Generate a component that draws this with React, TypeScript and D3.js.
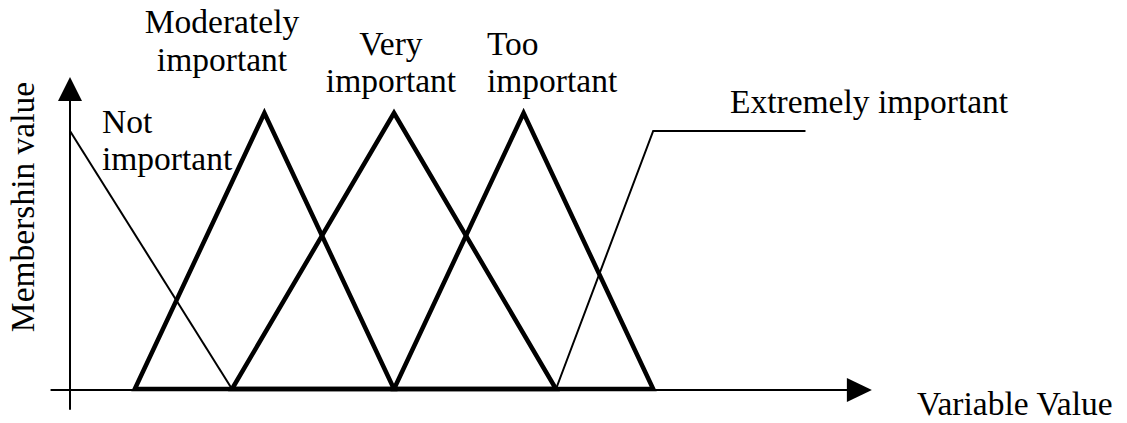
import React from "react";
import * as d3 from "d3";

// membership functions, x in variable units, y in membership
const notImportantX = [0, 5];
const notImportantY = [0.935, 0];
const moderatelyX = [2, 6, 10];
const moderatelyY = [0, 1, 0];
const veryX = [5, 10, 15];
const veryY = [0, 1, 0];
const tooX = [10, 14, 18];
const tooY = [0, 1, 0];
const extremelyX = [15, 18, 22.7];
const extremelyY = [0, 0.935, 0.935];

const xAxisRange = [-0.6, 24.75];
const yAxisRange = [-0.075, 1.13];

const xTitle = "Variable Value";
const yTitle = "Membershin value";

const W = 1127;
const H = 423;
const FONT = "Liberation Serif";
const FS = 33.5;

function pts(xs: number[], ys: number[]): [number, number][] {
  return xs.map((v, i) => [v, ys[i]]);
}

const x = d3.scaleLinear().domain([0, 10]).range([70, 394]);
const y = d3.scaleLinear().domain([0, 1]).range([389, 113]);
const line = d3.line<[number, number]>().x((d) => x(d[0])).y((d) => y(d[1]));
const closed = d3
  .line<[number, number]>()
  .x((d) => x(d[0]))
  .y((d) => y(d[1]))
  .curve(d3.curveLinearClosed);

function Label({ lines, px, py, anchor, lh = 38 }: { lines: string[]; px: number; py: number; anchor: string; lh?: number }) {
  return (
    <text x={px} y={py} textAnchor={anchor as any} fontFamily={FONT} fontSize={FS} fill="#000">
      {lines.map((s, i) => (
        <tspan key={i} x={px} dy={i === 0 ? 0 : lh}>
          {s}
        </tspan>
      ))}
    </text>
  );
}

export default function App() {
  const y0 = y(0) + 1;
  const xt = x(xAxisRange[1]);
  const ax = x(0);
  const yt = y(yAxisRange[1]);

  const thin = [pts(notImportantX, notImportantY), pts(extremelyX, extremelyY)];
  const thick = [pts(moderatelyX, moderatelyY), pts(veryX, veryY), pts(tooX, tooY)];

  return (
    <svg width={W} height={H} style={{ position: "absolute", left: 0, top: 0, display: "block" }}>
      <rect width={W} height={H} fill="#fff" />

      {/* axes */}
      <line x1={x(xAxisRange[0])} x2={xt - 10} y1={y0} y2={y0} stroke="#000" strokeWidth={2} />
      <path d={`M${xt},${y0}L${xt - 25},${y0 - 12}L${xt - 25},${y0 + 12}Z`} fill="#000" />
      <line x1={ax} x2={ax} y1={y(yAxisRange[0])} y2={yt + 10} stroke="#000" strokeWidth={2} />
      <path d={`M${ax},${yt}L${ax - 12},${yt + 24}L${ax + 12},${yt + 24}Z`} fill="#000" />

      {thin.map((p, i) => (
        <path key={"t" + i} d={line(p) || ""} fill="none" stroke="#000" strokeWidth={2} />
      ))}
      {thick.map((p, i) => (
        <path key={"k" + i} d={closed(p) || ""} fill="none" stroke="#000" strokeWidth={4.5} strokeLinejoin="miter" />
      ))}

      <Label lines={["Not", "important"]} px={102} py={133} anchor="start" lh={37} />
      <Label lines={["Moderately", "important"]} px={222} py={33} anchor="middle" />
      <Label lines={["Very", "important"]} px={391} py={55} anchor="middle" lh={37} />
      <Label lines={["Too", "important"]} px={487} py={55} anchor="start" lh={37} />
      <Label lines={["Extremely important"]} px={730} py={113} anchor="start" />
      <Label lines={[xTitle]} px={917} py={415} anchor="start" />

      <text transform="translate(34,207) rotate(-90)" textAnchor="middle" fontFamily={FONT} fontSize={FS} fill="#000">
        {yTitle}
      </text>
    </svg>
  );
}
